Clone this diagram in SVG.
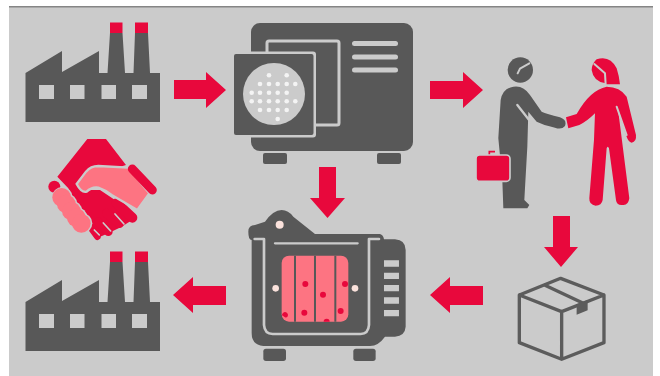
<svg xmlns="http://www.w3.org/2000/svg" width="660" height="376" viewBox="0 0 660 376">
<style>
.d{fill:#585858}.r{fill:#e8083c}.p{fill:#fd7482}.b{fill:#cbcbcb}
.ls{fill:none;stroke:#cbcbcb;stroke-linecap:round;stroke-linejoin:round}
.rs{fill:none;stroke:#e8083c;stroke-linecap:round}
.w{fill:#f4f4f4}.e{fill:#fbe2dc}
.box{fill:none;stroke:#5c5c5c;stroke-width:10;stroke-linejoin:round;stroke-linecap:round}
</style>
<defs>
<g id="factory">
<path class="d" d="M25.500 73L62 51V72L99 51V73H107.500L110 33H122.500L125 73H133.500L135 33H148L150 73H160V122H25.500Z"/>
<path class="r" d="M110 22.500H122.500V33H110ZM135 22.500H148V33H135Z"/>
<path class="b" d="M39 85H54V99H39ZM70 85H84.500V99H70ZM101.500 85H116V99H101.500ZM132 85H147V99H132Z"/>
</g>
</defs>
<rect width="660" height="376" fill="#fff"/>
<rect x="9" y="7" width="644" height="369" class="b"/>
<rect x="9" y="6" width="644" height="1.500" fill="#858585"/>
<g id="factory-top"><use href="#factory"/></g>
<g id="factory-bottom"><use href="#factory" y="229"/></g>
<g id="handshake" transform="scale(.3333)">
<path class="r" d="M262 417H318L378 495L300 520L250 570L300 570L345 600L412 650L365 680L325 700L290 715L262 685L205 565L172 530Z"/>
<path class="rs" stroke-width="30" d="M350 610L397 653"/>
<path class="rs" stroke-width="28" d="M320 640L358 670"/>
<path class="rs" stroke-width="26" d="M295 665L325 695"/>
<path class="rs" stroke-width="20" d="M270 680L292 710"/>
<path class="ls" stroke-width="5" d="M345 642L372 672M310 669L332 693M283 690L298 705"/>
<circle class="r" cx="163" cy="560" r="18"/>
<path class="p" d="M230 552L258 515Q272 498 295 498L385 503L448 580L412 630L335 585Q315 570 295 563Q275 560 260 575Q245 580 230 552Z" stroke="#cbcbcb" stroke-width="7"/>
<path class="rs" stroke-width="27" d="M397 507L457 570"/>
<g fill="#cbcbcb"><circle cx="187" cy="592" r="31"/><circle cx="201" cy="612" r="31"/><circle cx="216" cy="633" r="31"/><circle cx="231" cy="653" r="31"/><circle cx="246" cy="670" r="31"/></g>
<g class="p"><circle cx="185" cy="592" r="28"/><circle cx="199" cy="612" r="28"/><circle cx="214" cy="633" r="28"/><circle cx="229" cy="653" r="28"/><circle cx="244" cy="670" r="28"/></g>
</g>
<g id="autoclave">
<rect class="d" x="263" y="153" width="24" height="11" rx="2"/>
<rect class="d" x="377" y="153" width="24" height="11" rx="2"/>
<rect class="d" x="251" y="23" width="162" height="128" rx="9"/>
<rect x="267" y="41" width="72" height="84" rx="2" fill="none" stroke="#cbcbcb" stroke-width="3"/>
<rect class="b" x="234" y="51.500" width="82" height="86" rx="3"/>
<rect class="d" x="234" y="54" width="79.500" height="81" rx="2"/>
<circle class="b" cx="274" cy="94" r="31"/>
<g class="w"><circle cx="269" cy="75.300" r="2.300"/><circle cx="286.700" cy="75.300" r="2.300"/><circle cx="260" cy="84" r="2.300"/><circle cx="269" cy="84" r="2.300"/><circle cx="277.700" cy="84" r="2.300"/><circle cx="286.700" cy="84" r="2.300"/><circle cx="295.300" cy="84" r="2.300"/><circle cx="251.700" cy="92.700" r="2.300"/><circle cx="260" cy="92.700" r="2.300"/><circle cx="269" cy="92.700" r="2.300"/><circle cx="277.700" cy="92.700" r="2.300"/><circle cx="286.700" cy="92.700" r="2.300"/><circle cx="251.700" cy="101.300" r="2.300"/><circle cx="260" cy="101.300" r="2.300"/><circle cx="269" cy="101.300" r="2.300"/><circle cx="277.700" cy="101.300" r="2.300"/><circle cx="286.700" cy="101.300" r="2.300"/><circle cx="295.300" cy="101.300" r="2.300"/><circle cx="260" cy="110" r="2.300"/><circle cx="269" cy="110" r="2.300"/><circle cx="277.700" cy="110" r="2.300"/><circle cx="286.700" cy="110" r="2.300"/><circle cx="277.700" cy="119" r="2.300"/></g>
<rect class="b" x="352" y="41" width="46" height="5" rx="2.500"/>
<rect class="b" x="352" y="54.500" width="46" height="5" rx="2.500"/>
<rect class="b" x="352" y="67.500" width="46" height="5" rx="2.500"/>
</g>
<g id="people" transform="translate(430 40) scale(.3333)">
<circle class="d" cx="271" cy="90" r="38"/>
<path class="ls" d="M263 100L270 86L298 70" stroke-width="6"/>
<path class="d" d="M250 140Q280 135 300 165L335 215Q350 222 390 232Q412 240 405 258Q395 270 375 263Q340 255 320 245L295 215L292 320L283 480L298 495L292 505H220L217 420L205 295L212 180Q218 145 250 140Z"/>
<path class="ls" d="M262 195L305 250" stroke-width="7"/>
<path d="M178 345V335H195" fill="none" stroke="#e8083c" stroke-width="5"/>
<rect class="r" x="138" y="345" width="102" height="79" rx="11" stroke="#cbcbcb" stroke-width="5"/>
<path class="r" d="M500 58Q540 45 560 85Q568 110 570 133H528L527 130Q490 125 485 90Q486 70 500 58Z"/>
<path class="ls" d="M493 72L525 100L527 133" stroke-width="6"/>
<path class="r" d="M530 140Q570 140 590 170L618 285Q620 305 605 308Q595 305 590 290L565 215L598 475Q595 497 578 495Q560 497 558 480L537 325Q533 315 530 325L518 480Q515 497 497 497Q477 495 478 475L492 300L495 220Q470 245 448 255L415 265L408 232L440 222Q480 150 530 140Z"/>
<path class="ls" d="M560 200L590 285" stroke-width="6"/>
</g>
<g id="furnace" transform="translate(230 160) scale(.3333)">
<rect class="d" x="100" y="566" width="68" height="37" rx="8"/>
<rect class="d" x="370" y="566" width="67" height="37" rx="8"/>
<path class="d" d="M105 185Q130 150 155 150Q175 150 190 170L255 222H450Q460 225 462 238H495Q527 240 527 270V500Q525 528 495 530H465Q445 558 420 558H100Q65 555 65 520V240Q55 240 55 215Q55 195 75 195Z"/>
<circle class="e" cx="149" cy="194" r="12"/>
<path class="ls" d="M74 237H102V495Q104 522 128 522H392Q415 522 417 495V237H447" stroke-width="8"/>
<path class="ls" d="M135 250H383" stroke-width="7"/>
<rect class="p" x="155" y="287" width="200" height="198" rx="22"/>
<path class="d" d="M192 287h6v198h-6zM252 287h6v198h-6zM313 287h6v198h-6z"/>
<g class="r"><circle cx="226" cy="372" r="9"/><circle cx="345" cy="372" r="9"/><circle cx="279" cy="404" r="9"/><circle cx="223" cy="458" r="9"/><circle cx="332" cy="453" r="9"/><path d="M156 466a9 9 0 1 1 15 6l-5 .500Z"/><path d="M281 485a9 9 0 1 1 18 0Z"/></g>
<circle class="e" cx="137" cy="385" r="10"/>
<circle class="e" cx="375" cy="385" r="10"/>
<path class="b" d="M462 301h45v19h-45zM462 338h45v19h-45zM462 375h45v19h-45zM462 412h45v19h-45zM462 450h45v19h-45z"/>
</g>
<g id="box" transform="translate(420 210) scale(.3333)">
<path class="box" d="M422 205L552 255V398L425 448L298 398V255ZM298 255L425 305L552 255M425 305V448M375 226L490 280"/>
<path fill="#5c5c5c" d="M470 283L503 270V301L470 314Z"/>
</g>
<g id="connectors" class="r">
<path d="M174 80H206V72L226 90L206 108V99H174Z"/>
<path d="M430 81H463V72L483 90L463 108V99H430Z"/>
<path d="M319 167H336V198H345L327.500 218L310 198H319Z"/>
<path d="M553 216H570V247H578L561 267L544 247H553Z"/>
<path d="M483 286V305H450V313L430 295L450 277V286Z"/>
<path d="M226 286V305H193V313L173 295L193 277V286Z"/>
</g>
</svg>
